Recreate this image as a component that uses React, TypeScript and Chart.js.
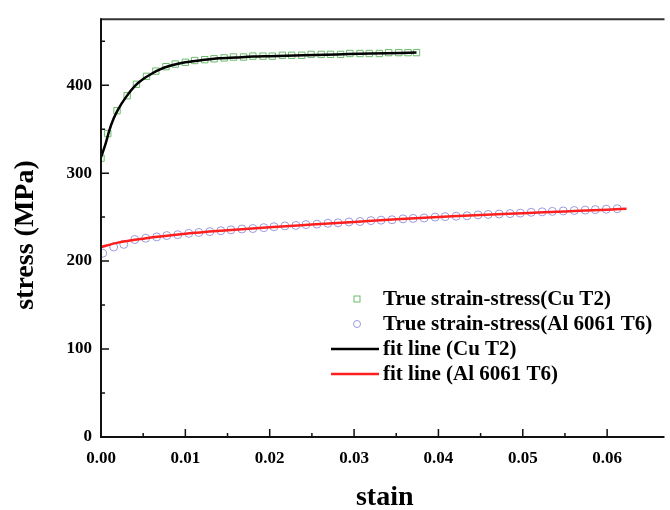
import React, { useEffect, useRef } from 'react';
import { Chart, registerables } from 'chart.js';

Chart.register(...registerables);

// Cu T2 measured points
const cuStrain = [0, 0.0008, 0.0019, 0.0031, 0.0042, 0.0054, 0.0065, 0.0077, 0.0088, 0.0100, 0.0111, 0.0123, 0.0134, 0.0146, 0.0157, 0.0169, 0.0180, 0.0192, 0.0203, 0.0215, 0.0226, 0.0238, 0.0249, 0.0261, 0.0272, 0.0284, 0.0295, 0.0307, 0.0318, 0.0330, 0.0341, 0.0353, 0.0364, 0.0374];
const cuStress = [317, 345, 371, 388, 401, 410, 416, 421, 424, 426, 428, 429, 430, 431, 432, 432, 433, 433, 433, 434, 434, 434, 435, 435, 435, 435, 436, 436, 436, 436, 437, 437, 437, 437];

// Al 6061 T6 measured points
const alStrain = [0.0002, 0.0015, 0.0027, 0.0040, 0.0053, 0.0066, 0.0078, 0.0091, 0.0104, 0.0116, 0.0129, 0.0142, 0.0154, 0.0167, 0.0180, 0.0193, 0.0205, 0.0218, 0.0231, 0.0243, 0.0256, 0.0269, 0.0281, 0.0294, 0.0307, 0.0320, 0.0332, 0.0345, 0.0358, 0.0370, 0.0383, 0.0396, 0.0408, 0.0421, 0.0434, 0.0447, 0.0459, 0.0472, 0.0485, 0.0497, 0.0510, 0.0523, 0.0535, 0.0548, 0.0561, 0.0574, 0.0586, 0.0599, 0.0612];
const alStress = [209, 216, 219, 224.5, 226, 227.5, 229, 230, 231.5, 232.5, 233.5, 234.5, 235.5, 236.5, 237, 238, 239, 240, 240.5, 241.5, 242, 243, 243.5, 244.5, 245, 246, 246.5, 247, 248, 248.5, 249, 250, 250.5, 251, 251.5, 252.5, 253, 253.5, 254, 254.5, 255.5, 256, 256.5, 257, 257.5, 258, 258.5, 259, 259.5];

// fit curves
const cuFitStrain = [0, 0.0005, 0.001, 0.0015, 0.002, 0.003, 0.004, 0.005, 0.006, 0.007, 0.008, 0.009, 0.010, 0.012, 0.014, 0.016, 0.018, 0.020, 0.024, 0.028, 0.032, 0.0374];
const cuFitStress = [318, 332, 349, 362, 372, 387, 399, 407, 413, 418, 421.5, 424, 426, 428.5, 430.5, 431.5, 432.5, 433, 434, 435, 436, 437];
const alFitStrain = [0, 0.002, 0.005, 0.01, 0.015, 0.02, 0.025, 0.03, 0.035, 0.04, 0.045, 0.05, 0.055, 0.06, 0.0623];
const alFitStress = [216, 221, 225.5, 231, 235, 238.5, 241.5, 244.5, 247.5, 250, 252.5, 254.5, 256.5, 258.5, 259.5];

const seriesLabels = [
  'True strain-stress(Cu T2)',
  'True strain-stress(Al 6061 T6)',
  'fit line (Cu T2)',
  'fit line (Al 6061 T6)',
];

const xTitle = 'stain';
const yTitle = 'stress (MPa)';
const xMin = 0;
const xMax = 0.0668;
const yMin = 0;
const yMax = 475;

const FONT = '"Liberation Serif", "Times New Roman", serif';
const GREEN = '#6cbc6c';
const PURPLE = '#9a9ae0';
const RED = '#ff1f1f';

function pts(xs: number[], ys: number[]) {
  return xs.map((x, i) => ({ x, y: ys[i] }));
}

export default function App() {
  const ref = useRef<HTMLCanvasElement>(null);

  useEffect(() => {
    if (!ref.current) return;

    const framePlugin = {
      id: 'frame',
      afterDraw(chart: any) {
        const ctx = chart.ctx as CanvasRenderingContext2D;
        const ca = chart.chartArea;
        const xs = chart.scales.x;
        const ys = chart.scales.y;
        ctx.save();
        // top border
        ctx.strokeStyle = '#333';
        ctx.lineWidth = 2;
        ctx.beginPath();
        ctx.moveTo(ca.left, ca.top);
        ctx.lineTo(ca.right, ca.top);
        ctx.stroke();
        // axes
        ctx.strokeStyle = '#111';
        ctx.lineWidth = 2;
        ctx.beginPath();
        ctx.moveTo(ca.left, ca.top - 1);
        ctx.lineTo(ca.left, ca.bottom);
        ctx.lineTo(ca.right, ca.bottom);
        ctx.stroke();
        // ticks (inward)
        ctx.lineWidth = 1.5;
        ctx.beginPath();
        xs.ticks.forEach((t: any) => {
          const px = xs.getPixelForValue(t.value);
          const major = Math.abs(t.value / 0.01 - Math.round(t.value / 0.01)) < 1e-6;
          const len = major ? 8 : 4;
          ctx.moveTo(px, ca.bottom);
          ctx.lineTo(px, ca.bottom - len);
        });
        ys.ticks.forEach((t: any) => {
          const py = ys.getPixelForValue(t.value);
          const major = Math.abs(t.value / 100 - Math.round(t.value / 100)) < 1e-6;
          const len = major ? 8 : 4;
          ctx.moveTo(ca.left, py);
          ctx.lineTo(ca.left + len, py);
        });
        ctx.stroke();

        // axis titles
        ctx.fillStyle = '#000';
        ctx.font = `bold 28px ${FONT}`;
        ctx.textAlign = 'center';
        ctx.textBaseline = 'alphabetic';
        ctx.fillText(xTitle, (ca.left + ca.right) / 2 + 2, 505);
        ctx.save();
        ctx.translate(33, 235);
        ctx.rotate(-Math.PI / 2);
        ctx.fillText(yTitle, 0, 0);
        ctx.restore();

        // legend
        const rows = [299, 324, 349, 374];
        const textX = 383;
        ctx.font = `bold 21px ${FONT}`;
        ctx.textAlign = 'left';
        ctx.textBaseline = 'middle';
        // square marker
        ctx.strokeStyle = GREEN;
        ctx.lineWidth = 1;
        ctx.strokeRect(354, rows[0] - 3, 6, 6);
        // circle marker
        ctx.strokeStyle = PURPLE;
        ctx.beginPath();
        ctx.arc(357, rows[1], 3.5, 0, Math.PI * 2);
        ctx.stroke();
        // lines
        ctx.lineWidth = 2.5;
        ctx.strokeStyle = '#000';
        ctx.beginPath();
        ctx.moveTo(331, rows[2]);
        ctx.lineTo(379, rows[2]);
        ctx.stroke();
        ctx.strokeStyle = RED;
        ctx.beginPath();
        ctx.moveTo(331, rows[3]);
        ctx.lineTo(379, rows[3]);
        ctx.stroke();
        ctx.fillStyle = '#000';
        seriesLabels.forEach((lab, i) => {
          ctx.fillText(lab, textX, rows[i] + 1);
        });
        ctx.restore();
      },
    };

    const chart = new Chart(ref.current, {
      type: 'scatter',
      data: {
        datasets: [
          {
            label: seriesLabels[2],
            data: pts(cuFitStrain, cuFitStress),
            showLine: true,
            borderColor: '#000',
            borderWidth: 2.5,
            pointRadius: 0,
            cubicInterpolationMode: 'monotone',
            fill: false,
            order: 0,
          } as any,
          {
            label: seriesLabels[3],
            data: pts(alFitStrain, alFitStress),
            showLine: true,
            borderColor: RED,
            borderWidth: 2.5,
            pointRadius: 0,
            cubicInterpolationMode: 'monotone',
            fill: false,
            order: 0,
          } as any,
          {
            label: seriesLabels[0],
            data: pts(cuStrain, cuStress),
            pointStyle: 'rect',
            pointRadius: 4.5,
            borderColor: GREEN,
            backgroundColor: 'rgba(0,0,0,0)',
            borderWidth: 1,
            order: 1,
          } as any,
          {
            label: seriesLabels[1],
            data: pts(alStrain, alStress),
            pointStyle: 'circle',
            pointRadius: 4,
            borderColor: PURPLE,
            backgroundColor: 'rgba(0,0,0,0)',
            borderWidth: 1,
            order: 1,
          } as any,
        ],
      },
      options: {
        responsive: false,
        animation: false,
        events: [],
        layout: { padding: { top: 12, right: 0, left: 0, bottom: 0 } },
        plugins: { legend: { display: false }, tooltip: { enabled: false } },
        scales: {
          x: {
            type: 'linear',
            min: xMin,
            max: xMax,
            afterBuildTicks: (s: any) => {
              s.ticks = s.ticks.filter((t: any) => Math.abs(t.value / 0.005 - Math.round(t.value / 0.005)) < 1e-6);
            },
            afterFit: (s: any) => {
              s.height = 73;
            },
            ticks: {
              stepSize: 0.005,
              autoSkip: false,
              maxRotation: 0,
              padding: 11,
              color: '#000',
              font: { family: FONT, size: 17, weight: 'bold' },
              callback: (v: any) => {
                const n = Number(v);
                return Math.abs(n / 0.01 - Math.round(n / 0.01)) < 1e-6 ? n.toFixed(2) : '';
              },
            },
            grid: { display: false, drawTicks: false },
            border: { display: false },
          },
          y: {
            type: 'linear',
            min: yMin,
            max: yMax,
            afterBuildTicks: (s: any) => {
              s.ticks = s.ticks.filter((t: any) => Math.abs(t.value / 50 - Math.round(t.value / 50)) < 1e-6);
            },
            afterFit: (s: any) => {
              s.width = 101;
            },
            ticks: {
              stepSize: 50,
              autoSkip: false,
              padding: 9,
              color: '#000',
              font: { family: FONT, size: 17, weight: 'bold' },
              callback: (v: any) => {
                const n = Number(v);
                return Math.abs(n / 100 - Math.round(n / 100)) < 1e-6 ? String(n) : '';
              },
            },
            grid: { display: false, drawTicks: false },
            border: { display: false },
          },
        },
      } as any,
      plugins: [framePlugin],
    });
    return () => chart.destroy();
  }, []);

  return (
    <div style={{ position: 'fixed', left: 0, top: 0, width: 670, height: 510, background: '#fff' }}>
      <canvas ref={ref} width={670} height={510} style={{ display: 'block', width: 670, height: 510 }} />
    </div>
  );
}
